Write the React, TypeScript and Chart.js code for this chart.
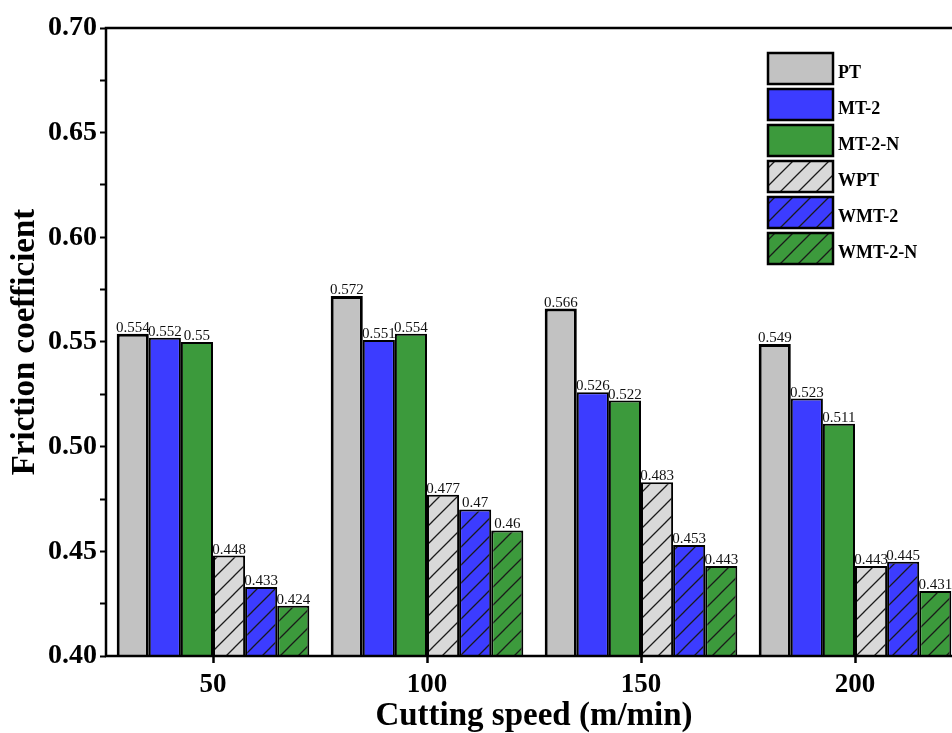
import React, { useEffect, useRef } from 'react';
import { Chart, registerables } from 'chart.js';

Chart.register(...registerables);

// Cutting speeds (m/min)
const speeds = ['50', '100', '150', '200'];

// Friction coefficient per specimen
const seriesNames = ['PT', 'MT-2', 'MT-2-N', 'WPT', 'WMT-2', 'WMT-2-N'];
const ptValues = [0.554, 0.572, 0.566, 0.549];
const mt2Values = [0.552, 0.551, 0.526, 0.523];
const mt2nValues = [0.55, 0.554, 0.522, 0.511];
const wptValues = [0.448, 0.477, 0.483, 0.443];
const wmt2Values = [0.433, 0.47, 0.453, 0.445];
const wmt2nValues = [0.424, 0.46, 0.443, 0.431];

const yMin = 0.4;
const yMax = 0.7;
const yStep = 0.025;

const GREY = '#c2c2c2';
const GREY_LIGHT = '#d9d9d9';
const BLUE = '#3c3cff';
const GREEN = '#3c9a3c';

const SERIF = '"Liberation Serif", "Times New Roman", serif';

function hatch(bg: string): CanvasPattern | string {
  const size = 18;
  const c = document.createElement('canvas');
  c.width = size;
  c.height = size;
  const g = c.getContext('2d');
  if (!g) return bg;
  g.fillStyle = bg;
  g.fillRect(0, 0, size, size);
  g.strokeStyle = '#1a1a1a';
  g.lineWidth = 1.3;
  g.beginPath();
  g.moveTo(-2, size + 2);
  g.lineTo(size + 2, -2);
  g.moveTo(-2, 2);
  g.lineTo(2, -2);
  g.moveTo(size - 2, size + 2);
  g.lineTo(size + 2, size - 2);
  g.stroke();
  return g.createPattern(c, 'repeat') || bg;
}

// Value text under each bar top (bars drawn afterwards may cover it)
const valueLabels = {
  id: 'valueLabels',
  beforeDatasetsDraw(chart: any) {
    const { ctx } = chart;
    ctx.save();
    ctx.font = `15px ${SERIF}`;
    ctx.fillStyle = '#111';
    ctx.textAlign = 'center';
    ctx.textBaseline = 'alphabetic';
    chart.data.datasets.forEach((ds: any, i: number) => {
      const meta = chart.getDatasetMeta(i);
      meta.data.forEach((el: any, j: number) => {
        ctx.fillText(String(ds.data[j]), el.x, el.y - 2);
      });
    });
    ctx.restore();
  },
};

// Closed frame around the plotting area
const frame = {
  id: 'frame',
  afterDraw(chart: any) {
    const { ctx, chartArea } = chart;
    ctx.save();
    ctx.strokeStyle = '#000';
    ctx.lineWidth = 2.5;
    ctx.strokeRect(chartArea.left, chartArea.top, chartArea.right - chartArea.left, chartArea.bottom - chartArea.top);
    ctx.restore();
  },
};

// Boxed legend in the upper right
const boxLegend = {
  id: 'boxLegend',
  afterDraw(chart: any) {
    const { ctx, chartArea } = chart;
    const x = chartArea.left + 662;
    const y0 = chartArea.top + 25;
    const w = 65;
    const h = 31;
    const gap = 36;
    ctx.save();
    chart.data.datasets.forEach((ds: any, i: number) => {
      const y = y0 + i * gap;
      ctx.fillStyle = ds.backgroundColor;
      ctx.fillRect(x, y, w, h);
      ctx.strokeStyle = '#000';
      ctx.lineWidth = 2.5;
      ctx.strokeRect(x, y, w, h);
      ctx.fillStyle = '#000';
      ctx.font = `bold 18px ${SERIF}`;
      ctx.textAlign = 'left';
      ctx.textBaseline = 'middle';
      ctx.fillText(ds.label, x + w + 5, y + h / 2 + 5);
    });
    ctx.restore();
  },
};

export default function App() {
  const canvasRef = useRef<HTMLCanvasElement | null>(null);

  useEffect(() => {
    const canvas = canvasRef.current;
    if (!canvas) return;

    const values = [ptValues, mt2Values, mt2nValues, wptValues, wmt2Values, wmt2nValues];
    const fills = [GREY, BLUE, GREEN, hatch(GREY_LIGHT), hatch(BLUE), hatch(GREEN)];
    const borders = [3, 2, 2, 2, 2, 2];

    const chart = new Chart(canvas, {
      type: 'bar',
      data: {
        labels: speeds,
        datasets: seriesNames.map((name, i) => ({
          label: name,
          data: values[i],
          backgroundColor: fills[i] as any,
          borderColor: '#000',
          borderWidth: borders[i],
          borderSkipped: false,
          categoryPercentage: 0.9,
          barPercentage: 1.0,
        })),
      },
      options: {
        responsive: false,
        animation: false,
        devicePixelRatio: 1,
        layout: { padding: { top: 28, right: 28, left: 0, bottom: 0 } },
        plugins: {
          legend: { display: false },
          tooltip: { enabled: false },
        },
        scales: {
          x: {
            type: 'category',
            offset: true,
            grid: {
              offset: false,
              drawOnChartArea: false,
              drawTicks: true,
              tickLength: 7,
              tickWidth: 2.5,
              tickColor: '#000',
            },
            border: { display: false },
            ticks: {
              color: '#000',
              padding: 6,
              font: { family: SERIF, size: 27, weight: 'bold' },
            },
            title: {
              display: true,
              text: 'Cutting speed (m/min)',
              color: '#000',
              padding: 0,
              font: { family: SERIF, size: 33, weight: 'bold', lineHeight: 1 },
            },
            afterFit(scale: any) {
              scale.height = 77;
            },
          },
          y: {
            min: yMin,
            max: yMax,
            grid: {
              drawOnChartArea: false,
              drawTicks: true,
              tickLength: 6,
              tickWidth: 2,
              tickColor: '#000',
            },
            border: { display: false },
            ticks: {
              stepSize: yStep,
              color: '#000',
              padding: 3,
              font: { family: SERIF, size: 28, weight: 'bold' },
              callback: (v: any) => {
                const n = Math.round(Number(v) / yStep);
                return n % 2 === 0 ? Number(v).toFixed(2) : '';
              },
            },
            title: {
              display: true,
              text: 'Friction coefficient',
              color: '#000',
              padding: { top: 9, bottom: 0 },
              font: { family: SERIF, size: 33, weight: 'bold', lineHeight: 1 },
            },
            afterFit(scale: any) {
              scale.width = 106;
            },
          },
        },
      },
      plugins: [valueLabels, frame, boxLegend],
    });

    return () => chart.destroy();
  }, []);

  return (
    <div style={{ position: 'fixed', left: 0, top: 0, width: 952, height: 733, overflow: 'hidden', background: '#fff' }}>
      <canvas ref={canvasRef} width={990} height={733} style={{ display: 'block' }} />
    </div>
  );
}
